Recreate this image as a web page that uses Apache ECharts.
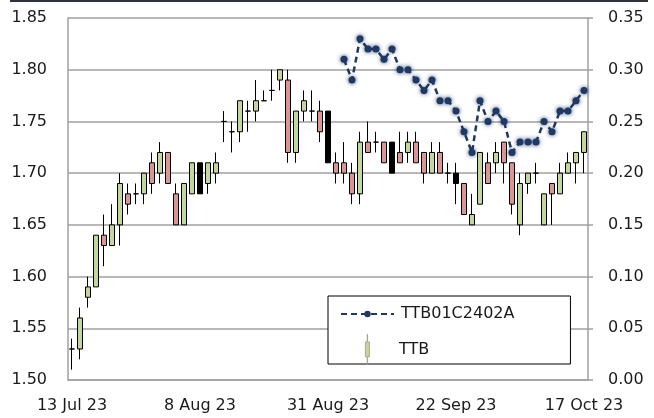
<!DOCTYPE html>
<html>
<head>
<meta charset="utf-8">
<script src="https://cdn.jsdelivr.net/npm/echarts@6/dist/echarts.min.js"></script>
<style>
  html, body { margin: 0; padding: 0; background: #fff; }
  #chart { width: 654px; height: 418px; }
</style>
</head>
<body>
<div id="chart"></div>
<script>
// Thai SET trading days, 13 Jul 23 - 17 Oct 23
const dates = [
  '13 Jul 23', '14 Jul 23', '17 Jul 23', '18 Jul 23', '19 Jul 23', '20 Jul 23', '21 Jul 23',
  '24 Jul 23', '25 Jul 23', '26 Jul 23', '27 Jul 23', '31 Jul 23',
  '2 Aug 23', '3 Aug 23', '4 Aug 23', '7 Aug 23', '8 Aug 23', '9 Aug 23', '10 Aug 23', '11 Aug 23',
  '15 Aug 23', '16 Aug 23', '17 Aug 23', '18 Aug 23', '21 Aug 23', '22 Aug 23', '23 Aug 23',
  '24 Aug 23', '25 Aug 23', '28 Aug 23', '29 Aug 23', '30 Aug 23', '31 Aug 23',
  '1 Sep 23', '4 Sep 23', '5 Sep 23', '6 Sep 23', '7 Sep 23', '8 Sep 23', '11 Sep 23', '12 Sep 23',
  '13 Sep 23', '14 Sep 23', '15 Sep 23', '18 Sep 23', '19 Sep 23', '20 Sep 23', '21 Sep 23', '22 Sep 23',
  '25 Sep 23', '26 Sep 23', '27 Sep 23', '28 Sep 23', '29 Sep 23',
  '2 Oct 23', '3 Oct 23', '4 Oct 23', '5 Oct 23', '6 Oct 23', '9 Oct 23', '10 Oct 23', '11 Oct 23',
  '12 Oct 23', '16 Oct 23', '17 Oct 23'
]

const ttbOpen = [
  1.53, 1.53, 1.58, 1.59, 1.64, 1.63, 1.65, 1.68, 1.68, 1.68, 1.71, 1.70,
  1.72, 1.68, 1.65, 1.68, 1.71, 1.69, 1.70, 1.75, 1.74, 1.74, 1.76, 1.76, 1.77, 1.78, 1.79,
  1.79, 1.72, 1.76, 1.76, 1.76, 1.76,
  1.71, 1.71, 1.70, 1.68, 1.73, 1.73, 1.73, 1.73, 1.72, 1.72, 1.73, 1.72, 1.70, 1.72, 1.70, 1.70,
  1.69, 1.65, 1.67, 1.71, 1.71, 1.73, 1.71, 1.65, 1.69, 1.70, 1.65, 1.69, 1.68, 1.70, 1.71, 1.72
]
const ttbClose = [
  1.53, 1.56, 1.59, 1.64, 1.63, 1.65, 1.69, 1.67, 1.68, 1.70, 1.69, 1.72,
  1.69, 1.65, 1.69, 1.71, 1.68, 1.71, 1.71, 1.75, 1.74, 1.77, 1.76, 1.77, 1.77, 1.78, 1.80,
  1.72, 1.76, 1.77, 1.76, 1.74, 1.71,
  1.70, 1.70, 1.68, 1.73, 1.72, 1.73, 1.71, 1.70, 1.71, 1.73, 1.71, 1.70, 1.72, 1.70, 1.70, 1.69,
  1.66, 1.66, 1.72, 1.69, 1.72, 1.71, 1.67, 1.69, 1.70, 1.70, 1.68, 1.68, 1.70, 1.71, 1.72, 1.74
]
const ttbLow = [
  1.51, 1.52, 1.57, 1.59, 1.61, 1.63, 1.63, 1.66, 1.67, 1.67, 1.68, 1.69,
  1.69, 1.65, 1.65, 1.68, 1.68, 1.68, 1.69, 1.73, 1.72, 1.73, 1.74, 1.75, 1.77, 1.77, 1.78,
  1.71, 1.71, 1.75, 1.75, 1.73, 1.71,
  1.69, 1.69, 1.67, 1.67, 1.72, 1.72, 1.71, 1.70, 1.71, 1.71, 1.71, 1.69, 1.70, 1.70, 1.69, 1.67,
  1.66, 1.65, 1.67, 1.69, 1.70, 1.69, 1.66, 1.64, 1.68, 1.69, 1.65, 1.65, 1.68, 1.70, 1.69, 1.70
]
const ttbHigh = [
  1.54, 1.57, 1.60, 1.64, 1.66, 1.67, 1.70, 1.69, 1.69, 1.70, 1.72, 1.73,
  1.72, 1.69, 1.69, 1.71, 1.71, 1.71, 1.72, 1.76, 1.75, 1.77, 1.77, 1.79, 1.78, 1.80, 1.80,
  1.80, 1.76, 1.78, 1.78, 1.77, 1.76,
  1.72, 1.73, 1.71, 1.74, 1.75, 1.74, 1.73, 1.73, 1.74, 1.74, 1.74, 1.72, 1.73, 1.73, 1.71, 1.71,
  1.69, 1.68, 1.72, 1.72, 1.73, 1.73, 1.71, 1.70, 1.70, 1.71, 1.68, 1.69, 1.71, 1.72, 1.72, 1.74
]
// days whose body came out solid black in the original
const solidBodies = [16, 32, 40, 48]

// warrant TTB01C2402A, starts trading 4 Sep 23
const warrant = [
  null, null, null, null, null, null, null, null, null, null, null, null,
  null, null, null, null, null, null, null, null, null, null, null, null,
  null, null, null, null, null, null, null, null, null, null,
  0.31, 0.29, 0.33, 0.32, 0.32, 0.31, 0.32, 0.30, 0.30, 0.29, 0.28, 0.29, 0.27, 0.27, 0.26,
  0.24, 0.22, 0.27, 0.25, 0.26, 0.25, 0.22, 0.23, 0.23, 0.23, 0.25, 0.24, 0.26, 0.26, 0.27, 0.28
]

const candles = dates.map((d, i) => {
  const v = [ttbOpen[i], ttbClose[i], ttbLow[i], ttbHigh[i]]
  if (solidBodies.includes(i)) {
    return { value: v, itemStyle: { color: '#000', color0: '#000', borderColor: '#000', borderColor0: '#000' } }
  }
  return v
})

const FONT = 'DejaVu Sans'
const TEXT = '#1a1a1a'
const AXIS = '#a0a0a0'
const chart = echarts.init(document.getElementById('chart'))

chart.setOption({
  animation: false,
  backgroundColor: '#fff',
  textStyle: { fontFamily: FONT },
  graphic: [
    { type: 'rect', shape: { x: 10, y: 0, width: 638, height: 2 }, style: { fill: '#2f3440' } }
  ],
  grid: { left: 68, right: 66, top: 18, bottom: 38 },
  legend: [
    {
      // outer box + warrant entry
      orient: 'vertical',
      left: 328,
      top: 296,
      padding: [10, 56, 42, 12],
      itemWidth: 53,
      itemHeight: 8,
      itemGap: 0,
      backgroundColor: '#fff',
      borderColor: '#000',
      borderWidth: 1,
      borderRadius: 0,
      textStyle: { fontFamily: FONT, fontSize: 16, color: TEXT, padding: [0, 0, 0, 2] },
      data: ['TTB01C2402A']
    },
    {
      orient: 'vertical',
      left: 365,
      top: 334,
      padding: 0,
      itemWidth: 53,
      itemHeight: 30,
      itemTextGap: 2,
      z: 5,
      textStyle: { fontFamily: FONT, fontSize: 16, color: TEXT },
      data: [{
        name: 'TTB',
        icon: 'path://M1.8,0L2.2,0L2.2,7.5L4,7.5L4,22.5L2.2,22.5L2.2,30L1.8,30L1.8,22.5L0,22.5L0,7.5L1.8,7.5Z',
        itemStyle: { color: '#c4d79b', borderColor: '#999', borderWidth: 0.8 }
      }]
    }
  ],
  xAxis: {
    type: 'category',
    data: dates,
    boundaryGap: true,
    axisLine: { lineStyle: { color: AXIS, width: 1.5 } },
    axisTick: { show: false },
    axisLabel: { interval: 15, margin: 18, fontSize: 16, color: TEXT, fontFamily: FONT }
  },
  yAxis: [
    {
      type: 'value',
      min: 1.5,
      max: 1.85,
      interval: 0.05,
      position: 'left',
      axisLine: { show: true, lineStyle: { color: AXIS, width: 1.5 } },
      axisTick: { show: false },
      splitLine: { lineStyle: { color: AXIS, width: 1.5 } },
      axisLabel: { margin: 21, fontSize: 16, color: TEXT, fontFamily: FONT, formatter: v => v.toFixed(2) }
    },
    {
      type: 'value',
      min: 0,
      max: 0.35,
      interval: 0.05,
      position: 'right',
      axisLine: { show: true, lineStyle: { color: AXIS, width: 1.5 } },
      axisTick: { show: true, length: 5, lineStyle: { color: AXIS, width: 1.5 } },
      splitLine: { show: false },
      axisLabel: { margin: 20, fontSize: 16, color: TEXT, fontFamily: FONT, formatter: v => v.toFixed(2) }
    }
  ],
  series: [
    {
      name: 'TTB',
      type: 'candlestick',
      yAxisIndex: 0,
      barWidth: 5,
      data: candles,
      itemStyle: {
        color: '#c4d79b',
        color0: '#d99694',
        borderColor: '#000',
        borderColor0: '#000',
        borderWidth: 1
      }
    },
    {
      name: 'TTB01C2402A',
      type: 'line',
      yAxisIndex: 1,
      data: warrant,
      symbol: 'circle',
      symbolSize: 7,
      showSymbol: true,
      showAllSymbol: true,
      lineStyle: { color: '#1f3864', width: 2.5, type: [6, 4] },
      itemStyle: { color: '#1f3864', shadowBlur: 4, shadowColor: 'rgba(31,56,100,0.9)' },
      z: 5
    }
  ]
})
</script>
</body>
</html>
